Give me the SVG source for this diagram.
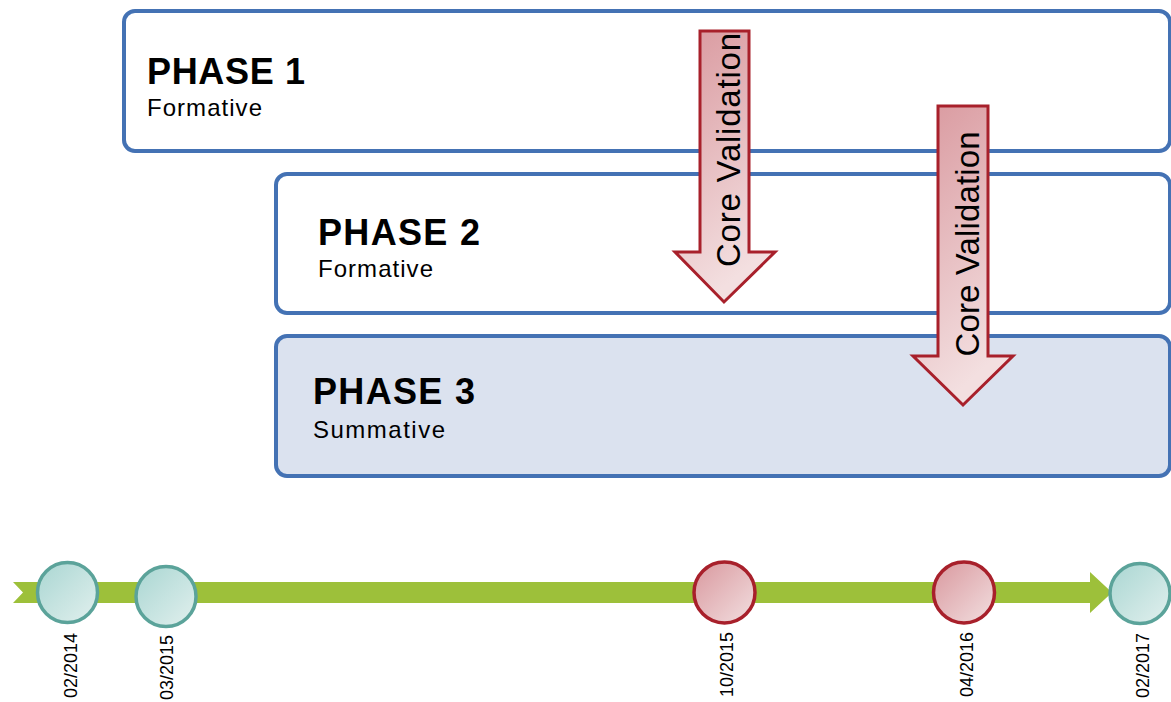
<svg xmlns="http://www.w3.org/2000/svg" width="1171" height="702" viewBox="0 0 1171 702">
<defs>
<linearGradient id="pink" x1="0" y1="0" x2="1" y2="1"><stop offset="0" stop-color="#d9989e"/><stop offset="1" stop-color="#f2dfe0"/></linearGradient>
<linearGradient id="pinkV" x1="0" y1="0" x2="0.3" y2="1"><stop offset="0" stop-color="#d9989e"/><stop offset="1" stop-color="#f3dfe0"/></linearGradient>
<linearGradient id="teal" x1="0" y1="0" x2="1" y2="1"><stop offset="0" stop-color="#a9d6d2"/><stop offset="1" stop-color="#e2f0ee"/></linearGradient>
<style>
.box{stroke:#4472b4;stroke-width:4;}
.title{font-family:"Liberation Sans",Arial,sans-serif;font-weight:bold;font-size:36px;fill:#000;}
.sub{font-family:"Liberation Sans",Arial,sans-serif;font-size:24px;fill:#000;}
.cv{font-family:"Liberation Sans",Arial,sans-serif;font-size:33px;fill:#000;}
.date{font-family:"Liberation Sans",Arial,sans-serif;font-size:18px;fill:#000;}
.arrow{fill:url(#pinkV);stroke:#a8202b;stroke-width:3;}
.ct{fill:url(#teal);stroke:#5ba39a;stroke-width:3.5;}
.cr{fill:url(#pink);stroke:#a8202b;stroke-width:3.5;}
</style>
</defs>
<g id="phase1">
<rect class="box" x="124" y="11" width="1046" height="140" rx="11" fill="#ffffff"/>
<text class="title" x="147" y="84" textLength="158" lengthAdjust="spacing">PHASE 1</text>
<text class="sub" x="147" y="116" textLength="115" lengthAdjust="spacing">Formative</text>
</g>
<g id="phase2">
<rect class="box" x="276" y="174" width="894" height="139" rx="11" fill="#ffffff"/>
<text class="title" x="318" y="245" textLength="162" lengthAdjust="spacing">PHASE 2</text>
<text class="sub" x="318" y="277" textLength="115" lengthAdjust="spacing">Formative</text>
</g>
<g id="phase3">
<rect class="box" x="276" y="336" width="894" height="140" rx="11" fill="#dbe2ef"/>
<text class="title" x="313" y="404" textLength="162" lengthAdjust="spacing">PHASE 3</text>
<text class="sub" x="313" y="438" textLength="132" lengthAdjust="spacing">Summative</text>
</g>
<g id="connectors">
<g id="timeline">
<polygon points="13,582 1090,582 1090,572 1112,592.5 1090,613 1090,603 13,603 23,592.5" fill="#9dc03a"/>
</g>
<g id="validation1">
<polygon class="arrow" points="700,31 749,31 749,252 775,252 724,302 675,252 700,252"/>
<text class="cv" transform="translate(740,150) rotate(-90)" text-anchor="middle" textLength="234" lengthAdjust="spacing">Core Validation</text>
</g>
<g id="validation2">
<polygon class="arrow" points="938,106 988,106 988,356 1013,356 963,405 913,356 938,356"/>
<text class="cv" transform="translate(979,244) rotate(-90)" text-anchor="middle" textLength="225" lengthAdjust="spacing">Core Validation</text>
</g>
</g>
<g id="m1">
<circle class="ct" cx="67.5" cy="592.5" r="30"/>
<text class="date" transform="translate(77,633) rotate(-90)" text-anchor="end">02/2014</text>
</g>
<g id="m2">
<circle class="ct" cx="166" cy="596.5" r="30"/>
<text class="date" transform="translate(173,635) rotate(-90)" text-anchor="end">03/2015</text>
</g>
<g id="m3">
<circle class="cr" cx="724.5" cy="592.5" r="30.5"/>
<text class="date" transform="translate(733,632) rotate(-90)" text-anchor="end">10/2015</text>
</g>
<g id="m4">
<circle class="cr" cx="964" cy="592.5" r="30.5"/>
<text class="date" transform="translate(973,632) rotate(-90)" text-anchor="end">04/2016</text>
</g>
<g id="m5">
<circle class="ct" cx="1140" cy="593.5" r="30"/>
<text class="date" transform="translate(1149,633) rotate(-90)" text-anchor="end">02/2017</text>
</g>
</svg>
